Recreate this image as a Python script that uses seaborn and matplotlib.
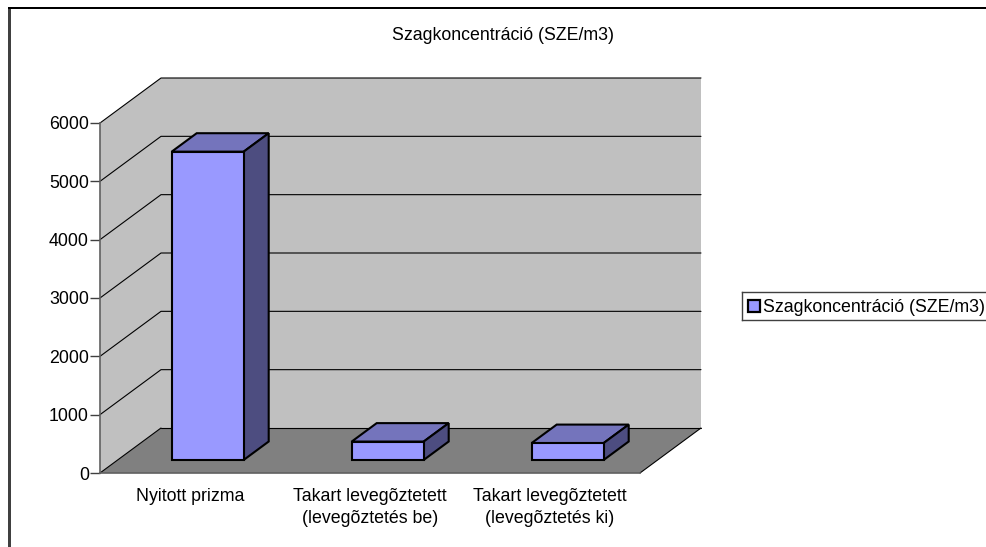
import matplotlib
matplotlib.use("Agg")
import matplotlib.pyplot as plt
from matplotlib.patches import Polygon, Rectangle
from matplotlib.transforms import Affine2D
import seaborn as sns
import pandas as pd

categories = ["Nyitott prizma",
              "Takart levegõztetett\n(levegõztetés be)",
              "Takart levegõztetett\n(levegõztetés ki)"]
values = [5285, 315, 290]
series_name = "Szagkoncentráció (SZE/m3)"
y_ticks = [0, 1000, 2000, 3000, 4000, 5000, 6000]

W, H = 986, 547
sns.set_theme(style="white")
plt.rcParams['font.family'] = ['Liberation Sans', 'DejaVu Sans']
FS = 12.75
BAR_LW = 1.5

fig = plt.figure(figsize=(W / 100, H / 100), dpi=100, facecolor="white")
ax = fig.add_axes([100 / W, 1 - 473 / H, 540 / W, 350 / H], facecolor="none")

df = pd.DataFrame({"cat": categories, "val": values})
sns.barplot(data=df, x="cat", y="val", ax=ax, width=0.4, color="#9999FF",
            saturation=1, edgecolor="black", linewidth=BAR_LW, zorder=5)
ax.set_xlim(-0.5, 2.5)
ax.set_ylim(0, 6000)
ax.set_xlabel("")
ax.set_ylabel("")

DX, DY = 61, 45
def depth(d):
    return ax.transData + Affine2D().translate(DX * d, DY * d)

x0, x1 = ax.get_xlim()
y0, y1 = ax.get_ylim()
back = depth(1)
ax.add_patch(Polygon([(x0, y0), (x1, y0), (x1, y1), (x0, y1)], closed=True,
                     transform=back, fc="#C0C0C0", ec="none", zorder=1, clip_on=False))

inv = ax.transData.inverted()
def to_data(x, y, d):
    return inv.transform(depth(d).transform((x, y)))

ax.add_patch(Polygon([to_data(x0, y0, 0), to_data(x0, y0, 1), to_data(x0, y1, 1), to_data(x0, y1, 0)],
                     closed=True, fc="#C0C0C0", ec="none", zorder=1, clip_on=False))
ax.add_patch(Polygon([to_data(x0, y0, 0), to_data(x1, y0, 0), to_data(x1, y0, 1), to_data(x0, y0, 1)],
                     closed=True, fc="#808080", ec="none", zorder=1.5, clip_on=False))
for a, b in [((x1, y0, 0), (x1, y0, 1)), ((x0, y0, 0), (x0, y0, 1)), ((x0, y0, 1), (x1, y0, 1))]:
    p, q = to_data(*a), to_data(*b)
    ax.plot([p[0], q[0]], [p[1], q[1]], color="black", lw=0.8, zorder=2, clip_on=False)

for t in y_ticks[1:]:
    p, q, r = to_data(x0, t, 0), to_data(x0, t, 1), to_data(x1, t, 1)
    ax.plot([p[0], q[0], r[0]], [p[1], q[1], r[1]], color="black", lw=0.8, zorder=2, clip_on=False)

D0, D1 = 0.29, 0.70
for patch in list(ax.patches):
    if patch.get_zorder() != 5:
        continue
    bx0, bw, bh = patch.get_x(), patch.get_width(), patch.get_height()
    bx1 = bx0 + bw
    patch.set_transform(depth(D0))
    patch.set_clip_on(False)
    patch.set_joinstyle("miter")
    top = [to_data(bx0, bh, D0), to_data(bx1, bh, D0), to_data(bx1, bh, D1), to_data(bx0, bh, D1)]
    side = [to_data(bx1, 0, D0), to_data(bx1, 0, D1), to_data(bx1, bh, D1), to_data(bx1, bh, D0)]
    ax.add_patch(Polygon(top, closed=True, fc="#7474BC", ec="black", lw=BAR_LW, zorder=4,
                         clip_on=False, joinstyle="miter"))
    ax.add_patch(Polygon(side, closed=True, fc="#4D4D80", ec="black", lw=BAR_LW, zorder=4,
                         clip_on=False, joinstyle="miter"))

ax.set_yticks(y_ticks)
ax.set_yticklabels([str(t) for t in y_ticks], fontsize=FS, color="black")
ax.set_xticks([-0.5, 0.5, 1.5, 2.5])
ax.set_xticklabels([""] * 4)
ax.set_xticks([0, 1, 2], minor=True)
ax.set_xticklabels(categories, minor=True, fontsize=FS, color="black", linespacing=1.38)
ax.tick_params(axis="x", which="minor", length=0, pad=11)
ax.tick_params(axis="x", which="major", length=6, width=1, color="#404040")
ax.tick_params(axis="y", which="major", left=True, length=7, width=1, color="#404040", pad=1)
for s in ["top", "right"]:
    ax.spines[s].set_visible(False)
for s in ["left", "bottom"]:
    ax.spines[s].set_visible(True)
    ax.spines[s].set_color("#606060")
    ax.spines[s].set_linewidth(1.2)
    ax.spines[s].set_zorder(3)

fig.text(503 / W, 1 - 36 / H, series_name, ha="center", va="center", fontsize=FS, color="black")

# outer chart frame: heavier grey left edge, thin black top edge
fig.add_artist(Rectangle((8 / W, 0), 2.5 / W, 1 - 8 / H, transform=fig.transFigure,
                         fc="#404040", ec="none", clip_on=False))
fig.add_artist(Rectangle((8 / W, 1 - 9 / H), 1, 1.5 / H, transform=fig.transFigure,
                         fc="black", ec="none", clip_on=False))

leg = fig.add_axes([742 / W, 1 - 320 / H, 260 / W, 28 / H], facecolor="white", zorder=10)
leg.set_xticks([]); leg.set_yticks([])
for s in leg.spines.values():
    s.set_color("#404040"); s.set_linewidth(1)
fig.add_artist(Rectangle((748 / W, 1 - 312 / H), 12 / W, 12 / H, transform=fig.transFigure,
                         fc="#9999FF", ec="black", lw=1.6, zorder=11))
fig.text(763 / W, 1 - 307.5 / H, series_name, ha="left", va="center", fontsize=FS, color="black", zorder=11)

fig.savefig("out.png", dpi=100)
